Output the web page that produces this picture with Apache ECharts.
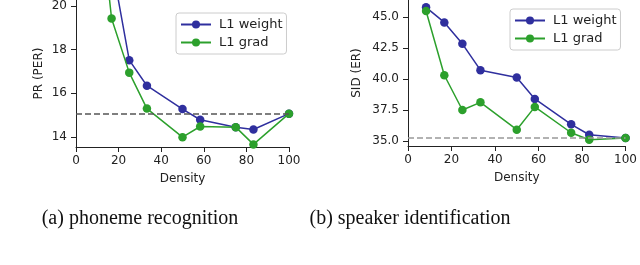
<!DOCTYPE html>
<html><head><meta charset="utf-8">
<script src="https://cdn.jsdelivr.net/npm/echarts@6/dist/echarts.min.js"></script>
<style>html,body{margin:0;padding:0;background:#fff}#c{width:640px;height:265px}</style>
</head><body><div id="c"></div>
<script>
// Panel (a): phoneme recognition
const densityA = [8.3, 16.7, 25, 33.3, 50, 58.3, 75, 83.3, 100];
const prWeight = [null, 22.0, 17.52, 16.35, 15.28, 14.79, 14.45, 14.34, 15.07];
const prGrad   = [27.0, 19.43, 16.95, 15.30, 13.99, 14.48, 14.45, 13.66, 15.07];
const prBaseline = 15.07;
const prTicks = [14, 16, 18, 20];
// Panel (b): speaker identification
const densityB = [8.3, 16.7, 25, 33.3, 50, 58.3, 75, 83.3, 100];
const sidWeight = [45.81, 44.59, 42.86, 40.73, 40.14, 38.40, 36.35, 35.51, 35.24];
const sidGrad   = [45.51, 40.32, 37.51, 38.13, 35.92, 37.76, 35.67, 35.11, 35.24];
const sidBaseline = 35.27;
const sidTicks = [35, 37.5, 40, 42.5, 45];
const xTicks = [0, 20, 40, 60, 80, 100];
const seriesNames = ['L1 weight', 'L1 grad'];
const captions = ['(a) phoneme recognition', '(b) speaker identification'];

const BLUE = '#2f2f9e', GREEN = '#2ca02c';
const font = 'DejaVu Sans';
const pairs = (xs, ys) => xs.map((x, i) => [x, ys[i]]);

function xAxis(gi) {
  return {
    type: 'value', gridIndex: gi, min: 0, max: 100, interval: 20,
    name: 'Density', nameLocation: 'middle', nameGap: 26,
    nameTextStyle: { fontFamily: font, fontSize: 12, color: '#222' },
    axisLine: { show: true, onZero: false, lineStyle: { color: '#222', width: 1 } },
    axisTick: { show: true, length: 5, inside: false, customValues: xTicks, lineStyle: { color: '#222' } },
    axisLabel: { fontFamily: font, fontSize: 12, color: '#222', margin: 8, customValues: xTicks },
    splitLine: { show: false }
  };
}
function yAxis(gi, min, max, ticks, name, fmt, gap) {
  return {
    type: 'value', gridIndex: gi, min: min, max: max,
    name: name, nameLocation: 'middle', nameGap: gap,
    nameTextStyle: { fontFamily: font, fontSize: 12, color: '#222' },
    axisLine: { show: true, onZero: false, lineStyle: { color: '#222', width: 1 } },
    axisTick: { show: true, length: 5, customValues: ticks, lineStyle: { color: '#222' } },
    axisLabel: { fontFamily: font, fontSize: 12, color: '#222', margin: 9, customValues: ticks, formatter: fmt },
    splitLine: { show: false }
  };
}
function line(name, data, color, xi, yi, base, baseColor) {
  const s = {
    name: name, type: 'line', xAxisIndex: xi, yAxisIndex: yi, data: data,
    symbol: 'circle', symbolSize: 8.5, clip: true, connectNulls: false,
    itemStyle: { color: color }, lineStyle: { color: color, width: 1.5 },
    z: name === seriesNames[0] ? 3 : 4, animation: false
  };
  if (base !== undefined) {
    s.markLine = {
      silent: true, symbol: ['none', 'none'], label: { show: false },
      lineStyle: { color: baseColor, type: [6, 3], width: 1.5 },
      data: [{ yAxis: base }], animation: false
    };
  }
  return s;
}
function legend(left, top) {
  return {
    left: left, top: top, orient: 'vertical', itemGap: 5, itemWidth: 30, itemHeight: 10,
    padding: [5, 4, 5, 4], borderColor: '#ccc', borderWidth: 1, borderRadius: 3,
    backgroundColor: '#fff',
    textStyle: { fontFamily: font, fontSize: 13, color: '#222', padding: [0, 0, 0, 3] },
    data: seriesNames
  };
}

const chart = echarts.init(document.getElementById('c'), null, { renderer: 'canvas' });
chart.setOption({
  animation: false,
  grid: [
    { left: 76, right: 351, top: 0, bottom: 118 },
    { left: 408, right: 12, top: 0, bottom: 119 }
  ],
  xAxis: [xAxis(0), xAxis(1)],
  yAxis: [
    yAxis(0, 13.54, 20.28, prTicks, 'PR (PER)', v => String(v), 31),
    yAxis(1, 34.6, 46.4, sidTicks, 'SID (ER)', v => v.toFixed(1), 45)
  ],
  legend: [legend(176, 13), legend(510, 9)],
  title: [
    { text: captions[0], left: 135, top: 204, textAlign: 'center',
      textStyle: { fontFamily: 'Liberation Serif', fontSize: 20, fontWeight: 'normal', color: '#111' } },
    { text: captions[1], left: 405, top: 204, textAlign: 'center',
      textStyle: { fontFamily: 'Liberation Serif', fontSize: 20, fontWeight: 'normal', color: '#111' } }
  ],
  series: [
    line(seriesNames[0], pairs(densityA, prWeight), BLUE, 0, 0, prBaseline, '#555'),
    line(seriesNames[1], pairs(densityA, prGrad), GREEN, 0, 0),
    line(seriesNames[0], pairs(densityB, sidWeight), BLUE, 1, 1, sidBaseline, '#999'),
    line(seriesNames[1], pairs(densityB, sidGrad), GREEN, 1, 1)
  ]
});
</script></body></html>
